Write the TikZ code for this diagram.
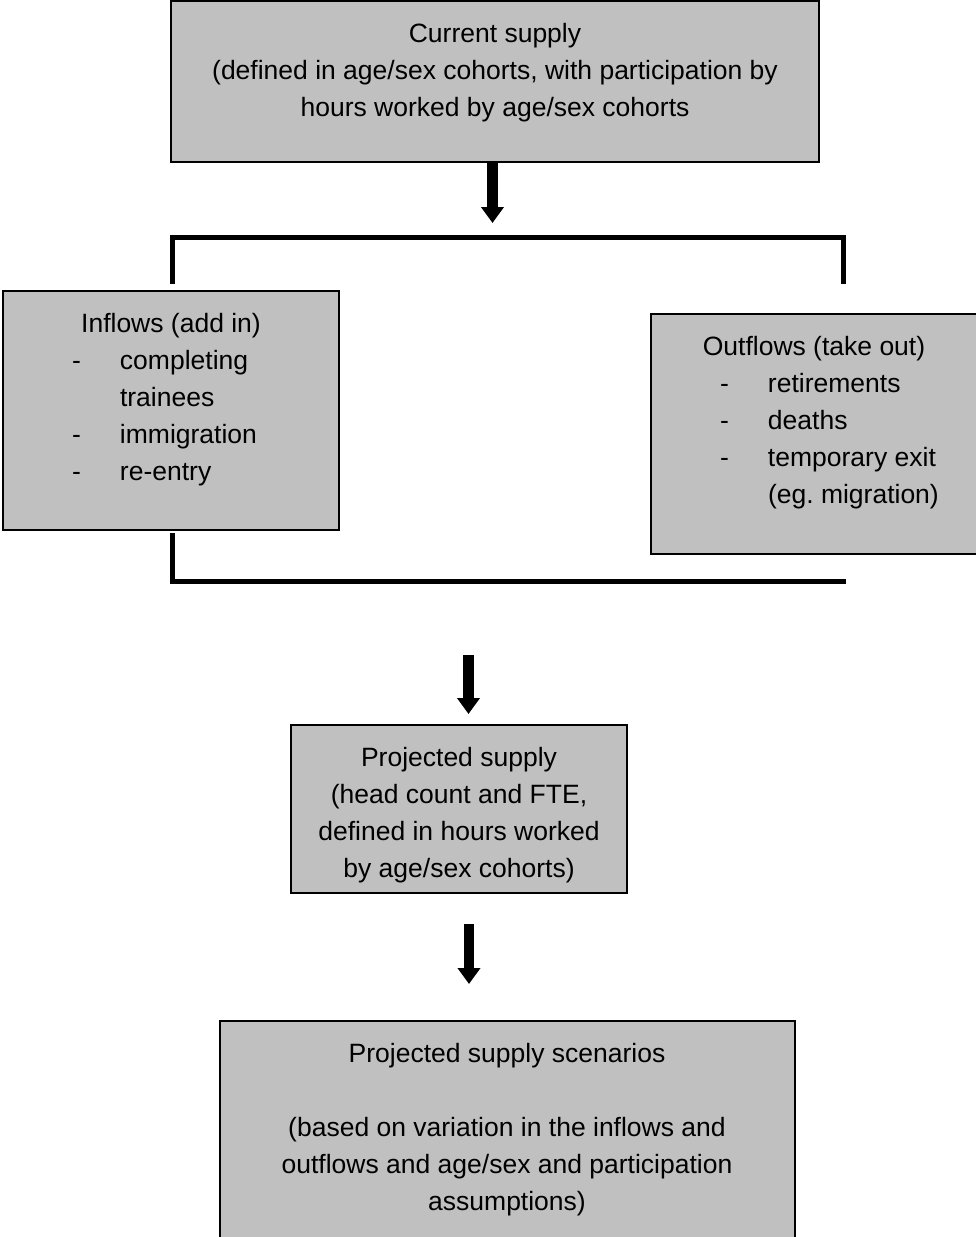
\documentclass[tikz,border=0pt]{standalone}
\usepackage{fontspec}
\setmainfont{Liberation Sans}
\usetikzlibrary{arrows.meta}
\definecolor{boxgray}{RGB}{192,192,192}
\begin{document}
\begin{tikzpicture}[x=1pt,y=-1pt,
  box/.style={draw=black,line width=1.5pt,fill=boxgray,inner sep=0pt,outer sep=0pt},
  txt/.style={inner sep=0pt,outer sep=0pt,anchor=base,font=\fontsize{26.5}{37}\selectfont},
  bigarrow/.style={line width=10.5pt,-{Triangle[width=22pt,length=16pt]}},
  bracket/.style={line width=5pt,line cap=rect}]
\useasboundingbox (0,0) rectangle (976,1237);
% boxes
\node[box,minimum width=648pt,minimum height=161pt] (cur) at (495,81.5) {};
\node[box,minimum width=336pt,minimum height=239pt] (in) at (171,410.5) {};
\node[box,minimum width=340pt,minimum height=240pt] (out) at (821,434) {};
\node[box,minimum width=336pt,minimum height=168pt] (proj) at (459,809) {};
\node[box,minimum width=575pt,minimum height=240pt] (scen) at (507.5,1141) {};
% texts
\node[txt] (curtext) at (495,42) {\begin{tabular}[t]{@{}c@{}}Current supply\\(defined in age/sex cohorts, with participation by\\hours worked by age/sex cohorts\end{tabular}};
\node[txt] (inhead) at (171,332) {Inflows (add in)};
\node[txt,anchor=base west] (inlist) at (72,369) {\begin{tabular}[t]{@{}p{48pt}@{}l@{}}-&completing\\&trainees\\-&immigration\\-&re-entry\end{tabular}};
\node[txt] (outhead) at (814,355) {Outflows (take out)};
\node[txt,anchor=base west] (outlist) at (720,392) {\begin{tabular}[t]{@{}p{48pt}@{}l@{}}-&retirements\\-&deaths\\-&temporary exit\\&(eg.\ migration)\end{tabular}};
\node[txt] (projtext) at (459,766) {\begin{tabular}[t]{@{}c@{}}Projected supply\\(head count and FTE,\\defined in hours worked\\by age/sex cohorts)\end{tabular}};
\node[txt] (scentext) at (507,1062) {\begin{tabular}[t]{@{}c@{}}Projected supply scenarios\\[37pt](based on variation in the inflows and\\outflows and age/sex and participation\\assumptions)\end{tabular}};
% bracket coordinates
\coordinate (tl) at (172,237);
\coordinate (tr) at (843,237);
\coordinate (tlb) at (172,281);
\coordinate (trb) at (843,281);
\coordinate (bl) at (172,535);
\coordinate (blc) at (172,581);
\coordinate (brc) at (843,581);
\draw[bracket] (tlb) -- (tl) -- (tr) -- (trb);
\draw[bracket] (bl) -- (blc) -- (brc);
% arrows
\coordinate (a1e) at (492.5,235);
\coordinate (a2s) at (468.5,655);
\coordinate (a3s) at (469,924);
\draw[bigarrow] (cur.south -| a1e) -- ([yshift=12pt]a1e);
\draw[bigarrow] (a2s) -- ([yshift=11pt]proj.north -| a2s);
\draw[bigarrow] (a3s) -- ([yshift=37pt]scen.north -| a3s);
\end{tikzpicture}
\end{document}
